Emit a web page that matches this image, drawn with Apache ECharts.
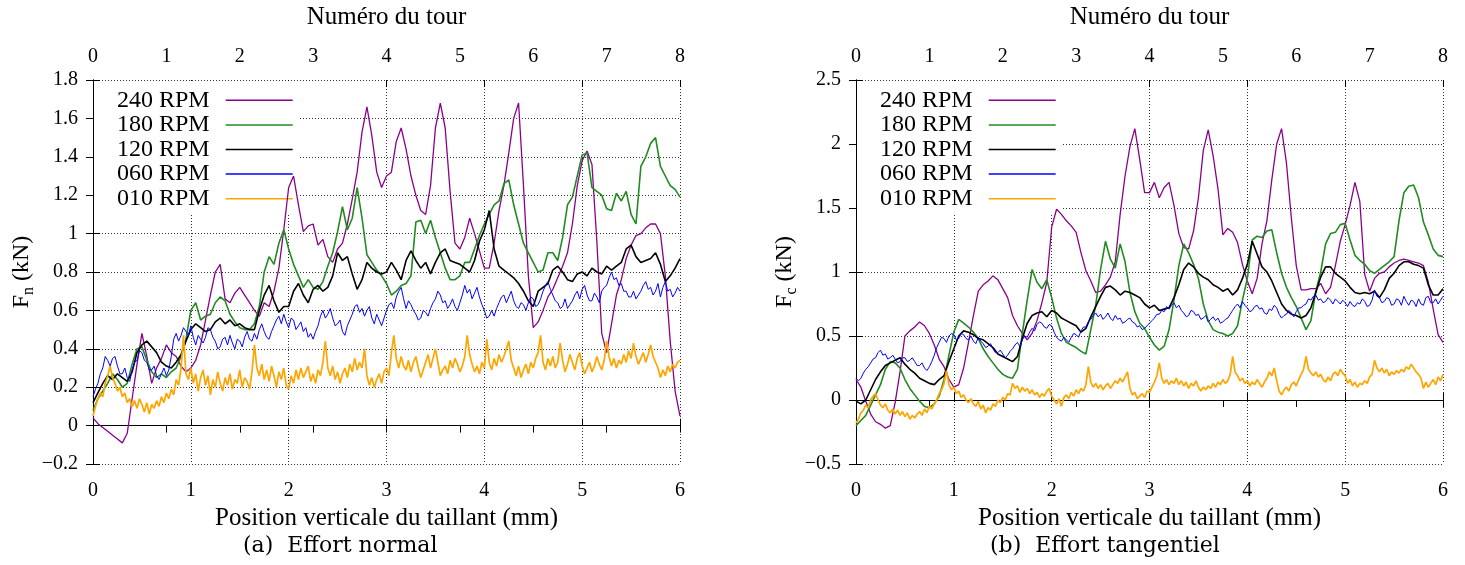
<!DOCTYPE html>
<html><head><meta charset="utf-8">
<script src="https://cdn.jsdelivr.net/npm/echarts/dist/echarts.min.js"></script>
<style>html,body{margin:0;padding:0;background:#fff}#c{width:1465px;height:565px}</style>
</head><body><div id="c"></div>
<script>
// sampling steps along "Position verticale du taillant (mm)"
const STEP = 0.05;       // 240/180/120 RPM series
const STEP_FINE = 0.025; // 060 and 010 RPM (noisy) series
const seriesNames = ['240 RPM','180 RPM','120 RPM','060 RPM','010 RPM'];
const bottomAxisTitle = 'Position verticale du taillant (mm)';
const topAxisTitle = 'Numéro du tour';
const captions = ['(a)  Effort normal', '(b)  Effort tangentiel'];

// ---- (a) Effort normal, Fn (kN) ----
const fn240 = [0.04,0.01,-0.01,-0.03,-0.05,-0.07,-0.09,-0.04,0.14,0.32,
 0.48,0.36,0.22,0.30,0.35,0.42,0.38,0.36,0.31,0.28,
 0.30,0.34,0.42,0.55,0.68,0.80,0.84,0.66,0.64,0.69,
 0.72,0.68,0.64,0.60,0.57,0.64,0.62,0.70,0.82,1.02,
 1.24,1.30,1.15,1.01,1.04,1.05,0.94,0.97,0.88,0.85,
 0.92,0.95,1.05,1.18,1.32,1.53,1.66,1.51,1.32,1.24,
 1.30,1.32,1.48,1.55,1.44,1.30,1.20,1.12,1.10,1.25,
 1.55,1.68,1.55,1.22,0.95,0.92,0.98,1.08,1.00,0.91,
 0.82,0.82,0.95,1.12,1.25,1.42,1.60,1.68,1.25,0.78,
 0.51,0.54,0.60,0.67,0.71,0.77,0.83,0.90,1.05,1.25,
 1.38,1.43,1.36,0.96,0.48,0.38,0.53,0.68,0.76,0.87,
 0.94,0.99,1.00,1.03,1.05,1.05,1.00,0.78,0.44,0.18,
 0.05];
const fn180 = [0.08,0.14,0.18,0.22,0.27,0.24,0.20,0.22,0.32,0.40,
 0.41,0.34,0.28,0.25,0.27,0.25,0.28,0.30,0.36,0.45,
 0.60,0.64,0.55,0.57,0.58,0.64,0.67,0.65,0.58,0.54,
 0.51,0.50,0.50,0.53,0.62,0.80,0.88,0.84,0.95,1.02,
 0.92,0.84,0.78,0.72,0.76,0.72,0.71,0.75,0.83,0.90,
 1.01,1.14,1.02,1.08,1.24,1.08,0.89,0.85,0.81,0.78,
 0.74,0.68,0.70,0.73,0.74,0.78,1.06,1.07,1.00,1.07,
 0.98,0.90,0.82,0.76,0.76,0.78,0.85,0.85,0.92,0.99,
 1.05,1.10,1.15,1.17,1.26,1.28,1.15,1.05,0.95,0.90,
 0.85,0.80,0.81,0.90,0.90,0.86,0.98,1.15,1.19,1.30,
 1.41,1.42,1.24,1.22,1.20,1.13,1.12,1.21,1.17,1.22,
 1.10,1.05,1.35,1.40,1.47,1.50,1.35,1.30,1.25,1.23,
 1.19];
const fn120 = [0.12,0.17,0.22,0.26,0.24,0.27,0.25,0.23,0.28,0.38,
 0.42,0.44,0.41,0.38,0.33,0.31,0.30,0.33,0.37,0.44,
 0.50,0.53,0.51,0.49,0.50,0.54,0.56,0.53,0.55,0.52,
 0.53,0.51,0.50,0.50,0.60,0.68,0.73,0.65,0.59,0.62,
 0.62,0.70,0.74,0.68,0.64,0.71,0.73,0.70,0.72,0.78,
 0.90,0.86,0.88,0.79,0.71,0.76,0.85,0.82,0.80,0.79,
 0.80,0.85,0.81,0.76,0.86,0.91,0.86,0.82,0.85,0.79,
 0.85,0.90,0.92,0.86,0.85,0.84,0.82,0.80,0.86,0.96,
 1.02,1.12,0.92,0.83,0.81,0.79,0.77,0.74,0.70,0.65,
 0.62,0.70,0.72,0.74,0.81,0.83,0.80,0.76,0.75,0.79,
 0.80,0.78,0.82,0.80,0.79,0.83,0.81,0.83,0.85,0.92,
 0.94,0.88,0.85,0.86,0.87,0.90,0.84,0.75,0.78,0.82,
 0.87];
const fn060 = [0.15,0.19,0.22,0.27,0.30,0.36,0.34,0.31,0.35,0.36,0.31,0.27,0.27,0.30,0.25,0.23,0.29,0.33,0.34,0.39,
 0.38,0.34,0.33,0.29,0.29,0.31,0.26,0.24,0.27,0.30,0.26,0.29,0.36,0.45,0.48,0.44,0.47,0.51,0.49,0.47,
 0.52,0.46,0.42,0.47,0.45,0.43,0.46,0.51,0.50,0.46,0.44,0.40,0.41,0.45,0.46,0.42,0.47,0.43,0.40,0.45,
 0.44,0.41,0.46,0.49,0.45,0.44,0.48,0.45,0.50,0.53,0.49,0.46,0.45,0.49,0.52,0.55,0.57,0.53,0.58,0.54,
 0.51,0.56,0.55,0.50,0.52,0.54,0.49,0.51,0.46,0.48,0.45,0.49,0.52,0.57,0.60,0.56,0.58,0.61,0.56,0.52,
 0.53,0.55,0.49,0.47,0.52,0.55,0.58,0.62,0.63,0.59,0.61,0.57,0.60,0.62,0.56,0.53,0.58,0.55,0.52,0.56,
 0.60,0.63,0.64,0.61,0.67,0.70,0.72,0.66,0.61,0.65,0.63,0.60,0.58,0.55,0.56,0.60,0.59,0.57,0.61,0.64,
 0.66,0.70,0.68,0.64,0.65,0.61,0.63,0.66,0.62,0.60,0.64,0.68,0.73,0.69,0.71,0.66,0.69,0.72,0.67,0.63,
 0.60,0.56,0.57,0.60,0.57,0.61,0.64,0.67,0.68,0.64,0.67,0.70,0.65,0.62,0.61,0.64,0.63,0.60,0.64,0.67,
 0.66,0.62,0.63,0.66,0.70,0.73,0.75,0.71,0.68,0.65,0.64,0.61,0.62,0.66,0.61,0.63,0.65,0.68,0.70,0.66,
 0.71,0.73,0.68,0.65,0.65,0.69,0.67,0.64,0.70,0.72,0.73,0.77,0.80,0.76,0.77,0.73,0.74,0.70,0.70,0.67,
 0.67,0.70,0.66,0.68,0.70,0.73,0.75,0.71,0.72,0.68,0.70,0.74,0.67,0.72,0.75,0.70,0.71,0.67,0.69,0.72,
 0.70];
const fn010 = [0.05,0.10,0.14,0.17,0.15,0.22,0.26,0.31,
 0.25,0.22,0.18,0.20,0.15,0.17,0.12,0.14,
 0.10,0.13,0.09,0.14,0.11,0.07,0.12,0.06,
 0.11,0.09,0.13,0.10,0.15,0.12,0.17,0.14,
 0.19,0.16,0.24,0.21,0.30,0.47,0.27,0.24,
 0.30,0.22,0.27,0.18,0.25,0.29,0.21,0.26,
 0.16,0.24,0.20,0.28,0.22,0.18,0.25,0.21,
 0.27,0.19,0.24,0.22,0.29,0.20,0.25,0.23,
 0.19,0.28,0.42,0.30,0.26,0.32,0.24,0.29,
 0.23,0.31,0.26,0.20,0.28,0.24,0.30,0.21,
 0.19,0.26,0.22,0.29,0.24,0.30,0.25,0.28,
 0.31,0.23,0.27,0.22,0.29,0.26,0.33,0.44,
 0.30,0.26,0.31,0.24,0.28,0.22,0.27,0.30,
 0.25,0.32,0.28,0.35,0.29,0.33,0.30,0.40,
 0.26,0.21,0.25,0.20,0.24,0.27,0.22,0.28,
 0.30,0.26,0.38,0.47,0.35,0.30,0.36,0.31,
 0.29,0.34,0.28,0.33,0.36,0.30,0.25,0.29,
 0.33,0.37,0.30,0.35,0.40,0.33,0.26,0.29,
 0.31,0.27,0.34,0.30,0.35,0.32,0.28,0.31,
 0.36,0.47,0.37,0.32,0.28,0.31,0.27,0.33,
 0.30,0.45,0.33,0.29,0.35,0.31,0.37,0.33,
 0.36,0.40,0.44,0.34,0.30,0.26,0.31,0.25,
 0.29,0.32,0.27,0.33,0.30,0.35,0.38,0.47,
 0.33,0.29,0.35,0.31,0.36,0.30,0.33,0.43,
 0.34,0.28,0.32,0.37,0.33,0.29,0.35,0.38,
 0.31,0.27,0.30,0.33,0.28,0.31,0.36,0.32,
 0.29,0.34,0.44,0.36,0.31,0.35,0.30,0.34,
 0.32,0.37,0.33,0.39,0.35,0.43,0.36,0.32,
 0.35,0.38,0.33,0.37,0.42,0.36,0.33,0.30,
 0.25,0.29,0.26,0.31,0.28,0.32,0.30,0.33,
 0.34];

// ---- (b) Effort tangentiel, Fc (kN) ----
const fc240 = [0.16,0.10,-0.01,-0.11,-0.17,-0.19,-0.22,-0.20,-0.02,0.22,
 0.50,0.54,0.57,0.61,0.58,0.52,0.43,0.32,0.26,0.16,
 0.10,0.12,0.25,0.45,0.66,0.85,0.90,0.93,0.97,0.94,
 0.87,0.80,0.66,0.58,0.52,0.47,0.52,0.62,0.76,0.92,
 1.35,1.49,1.45,1.40,1.36,1.31,1.15,1.01,0.93,0.84,
 0.85,0.90,0.96,1.08,1.45,1.75,1.98,2.12,1.88,1.62,
 1.62,1.70,1.58,1.66,1.70,1.52,1.30,1.19,1.18,1.32,
 1.58,1.95,2.11,1.91,1.65,1.29,1.34,1.31,1.23,1.06,
 0.93,0.83,0.95,1.22,1.40,1.72,2.00,2.12,1.85,1.42,
 1.05,0.86,0.86,0.87,0.87,0.91,0.83,0.88,1.05,1.24,
 1.37,1.52,1.70,1.55,0.98,0.85,0.95,0.99,1.00,1.04,
 1.07,1.09,1.10,1.09,1.08,1.07,1.05,0.92,0.71,0.51,
 0.45];
const fc180 = [-0.20,-0.16,-0.12,-0.04,0.04,0.12,0.24,0.30,0.29,0.25,
 0.16,0.09,0.04,-0.01,-0.05,-0.06,-0.03,0.03,0.16,0.35,
 0.53,0.63,0.60,0.57,0.53,0.48,0.40,0.34,0.29,0.24,
 0.20,0.18,0.17,0.24,0.52,0.78,1.02,0.92,0.87,0.94,
 0.80,0.64,0.52,0.45,0.43,0.41,0.38,0.36,0.55,0.74,
 1.02,1.24,1.10,1.03,1.22,1.08,0.84,0.69,0.60,0.56,
 0.49,0.43,0.39,0.42,0.55,0.78,1.05,1.22,1.15,1.06,
 0.95,0.75,0.62,0.55,0.53,0.52,0.50,0.52,0.58,0.78,
 0.95,1.25,1.28,1.27,1.32,1.33,1.15,0.99,0.88,0.80,
 0.73,0.64,0.55,0.62,0.85,1.00,1.22,1.30,1.31,1.37,
 1.38,1.25,1.13,1.09,1.06,1.01,0.99,1.02,1.05,1.08,
 1.12,1.40,1.62,1.67,1.68,1.58,1.39,1.29,1.18,1.13,
 1.12];
const fc120 = [-0.01,-0.03,0.00,0.08,0.16,0.22,0.27,0.29,0.31,0.33,
 0.28,0.24,0.21,0.17,0.15,0.13,0.12,0.16,0.19,0.30,
 0.40,0.50,0.54,0.53,0.51,0.48,0.47,0.44,0.41,0.36,
 0.34,0.32,0.30,0.34,0.48,0.60,0.66,0.68,0.69,0.65,
 0.70,0.68,0.64,0.62,0.60,0.58,0.53,0.56,0.65,0.73,
 0.81,0.88,0.89,0.86,0.82,0.85,0.84,0.82,0.80,0.75,
 0.72,0.74,0.70,0.71,0.72,0.80,0.90,1.02,1.07,1.04,
 0.99,0.96,0.94,0.90,0.88,0.85,0.87,0.82,0.86,0.95,
 1.06,1.24,1.14,1.04,1.00,0.93,0.84,0.75,0.70,0.67,
 0.66,0.64,0.66,0.72,0.84,0.96,1.04,1.04,0.99,0.96,
 0.93,0.88,0.84,0.83,0.84,0.83,0.85,0.80,0.86,0.95,
 0.99,1.05,1.08,1.08,1.06,1.05,1.03,0.90,0.82,0.82,
 0.87];
const fc060 = [0.17,0.15,0.17,0.21,0.24,0.26,0.29,0.32,0.33,0.37,0.39,0.35,0.36,0.32,0.33,0.35,0.32,0.29,0.30,0.33,
 0.33,0.30,0.31,0.33,0.30,0.27,0.27,0.29,0.25,0.23,0.26,0.30,0.35,0.41,0.45,0.49,0.48,0.45,0.50,0.52,
 0.51,0.47,0.48,0.52,0.51,0.48,0.47,0.50,0.46,0.44,0.49,0.46,0.44,0.41,0.42,0.44,0.40,0.37,0.37,0.39,
 0.36,0.33,0.35,0.38,0.40,0.43,0.45,0.42,0.47,0.50,0.49,0.53,0.56,0.54,0.59,0.61,0.60,0.57,0.56,0.59,
 0.58,0.53,0.49,0.47,0.46,0.49,0.47,0.45,0.49,0.52,0.51,0.49,0.54,0.57,0.57,0.61,0.63,0.66,0.68,0.65,
 0.67,0.63,0.65,0.68,0.64,0.62,0.66,0.63,0.64,0.60,0.61,0.63,0.64,0.61,0.60,0.57,0.58,0.55,0.56,0.58,
 0.60,0.62,0.64,0.67,0.67,0.70,0.69,0.73,0.71,0.74,0.76,0.72,0.74,0.70,0.68,0.65,0.66,0.70,0.69,0.66,
 0.67,0.63,0.64,0.66,0.61,0.63,0.65,0.62,0.64,0.60,0.61,0.63,0.64,0.67,0.70,0.73,0.75,0.72,0.77,0.74,
 0.72,0.69,0.70,0.73,0.74,0.71,0.72,0.68,0.67,0.71,0.70,0.74,0.72,0.67,0.64,0.66,0.67,0.70,0.68,0.65,
 0.69,0.72,0.72,0.74,0.75,0.79,0.78,0.81,0.82,0.78,0.79,0.76,0.77,0.80,0.78,0.75,0.79,0.77,0.75,0.78,
 0.76,0.73,0.77,0.74,0.73,0.76,0.75,0.79,0.77,0.73,0.74,0.78,0.86,0.81,0.80,0.76,0.77,0.80,0.79,0.74,
 0.75,0.79,0.78,0.74,0.81,0.77,0.74,0.78,0.77,0.73,0.79,0.75,0.74,0.80,0.81,0.76,0.76,0.79,0.75,0.78,
 0.81];
const fc010 = [-0.18,-0.15,-0.10,-0.08,-0.04,-0.06,0.00,0.03,
 0.05,0.00,-0.04,-0.06,-0.03,-0.08,-0.10,-0.07,
 -0.11,-0.08,-0.12,-0.09,-0.13,-0.10,-0.15,-0.12,
 -0.14,-0.11,-0.09,-0.12,-0.07,-0.10,-0.05,-0.07,
 -0.03,0.00,0.05,0.08,0.13,0.23,0.12,0.08,
 0.10,0.05,0.07,0.02,0.04,0.00,-0.02,0.01,
 -0.03,-0.05,-0.01,-0.07,-0.04,-0.10,-0.06,-0.08,
 -0.03,-0.05,0.00,-0.02,0.02,0.00,0.05,0.04,
 0.13,0.09,0.11,0.06,0.10,0.07,0.09,0.05,
 0.08,0.04,0.06,0.02,0.05,0.03,0.07,0.09,
 0.03,0.00,-0.03,0.01,-0.05,0.02,0.04,0.01,
 0.06,0.03,0.08,0.05,0.09,0.07,0.12,0.26,
 0.14,0.10,0.13,0.09,0.12,0.08,0.11,0.13,
 0.09,0.12,0.15,0.13,0.17,0.14,0.18,0.22,
 0.09,0.04,0.06,0.01,0.03,0.05,0.02,0.07,
 0.06,0.10,0.14,0.19,0.29,0.17,0.13,0.16,
 0.12,0.15,0.13,0.17,0.12,0.15,0.11,0.14,
 0.09,0.13,0.11,0.15,0.10,0.07,0.10,0.08,
 0.11,0.09,0.13,0.10,0.14,0.12,0.16,0.13,
 0.15,0.20,0.34,0.22,0.19,0.15,0.17,0.13,
 0.15,0.11,0.14,0.12,0.16,0.13,0.10,0.14,
 0.17,0.22,0.19,0.25,0.15,0.07,0.04,0.08,
 0.10,0.07,0.12,0.14,0.11,0.16,0.20,0.24,
 0.34,0.24,0.21,0.19,0.22,0.18,0.20,0.16,
 0.14,0.18,0.15,0.20,0.22,0.19,0.24,0.21,
 0.19,0.13,0.16,0.11,0.14,0.10,0.13,0.12,
 0.15,0.13,0.18,0.20,0.31,0.25,0.22,0.25,
 0.21,0.24,0.19,0.22,0.20,0.23,0.21,0.24,
 0.22,0.26,0.24,0.28,0.25,0.22,0.20,0.17,
 0.09,0.14,0.10,0.13,0.16,0.12,0.18,0.15,
 0.20];

const seriesColors = ['#8b008b','#228b22','#000000','#0000ff','#ffa500'];
const seriesWidths = [1.3,1.6,1.6,1.0,1.7];
const seriesSteps = [STEP, STEP, STEP, STEP_FINE, STEP_FINE];

const FONT = 'Liberation Serif';
function pairs(arr, step){ return arr.map((v,i)=>[+(i*step).toFixed(3), v]); }
function yFmt(v){ return String(+v.toFixed(2)).replace('-', '\u2212'); }

const chart = echarts.init(document.getElementById('c'), null, {renderer:'canvas'});

const grids = [{left:93, top:80, width:587, height:384}, {left:856, top:80, width:587, height:384}];
const yRanges = [{min:-0.2,max:1.8,interval:0.2},{min:-0.5,max:2.5,interval:0.5}];
const yNames = ['{a|F}{b|n}{a| (kN)}','{a|F}{b|c}{a| (kN)}'];
const data = [[fn240,fn180,fn120,fn060,fn010],[fc240,fc180,fc120,fc060,fc010]];

const xAxes = [], yAxes = [], series = [], legends = [], graphics = [];
const tickStyle = {show:true, inside:true, length:7, lineStyle:{color:'#000', width:1}};
const lineStyle = {show:true, lineStyle:{color:'#000', width:1}};
const gridLine = {show:true, lineStyle:{color:'#333', width:1, type:[1,2]}};

grids.forEach((g, gi) => {
  const xb = xAxes.length;
  xAxes.push({type:'value', gridIndex:gi, position:'bottom', min:0, max:6, interval:1,
    name:bottomAxisTitle, nameLocation:'middle', nameGap:39,
    nameTextStyle:{fontFamily:FONT, fontSize:25, color:'#000'},
    axisLine:lineStyle, axisTick:tickStyle,
    axisLabel:{fontFamily:FONT, fontSize:20, color:'#000', margin:17},
    splitLine:gridLine});
  xAxes.push({type:'value', gridIndex:gi, position:'top', min:0, max:8, interval:1,
    name:topAxisTitle, nameLocation:'middle', nameGap:50,
    nameTextStyle:{fontFamily:FONT, fontSize:25, color:'#000'},
    axisLine:lineStyle, axisTick:tickStyle,
    axisLabel:{fontFamily:FONT, fontSize:20, color:'#000', margin:13},
    splitLine:{show:false}});
  xAxes.push({type:'value', gridIndex:gi, position:'top', min:0, max:6, interval:1,
    axisLine:{show:false}, axisTick:tickStyle, axisLabel:{show:false}, splitLine:{show:false}});
  const yb = yAxes.length;
  yAxes.push(Object.assign({type:'value', gridIndex:gi, position:'left',
    name:yNames[gi], nameLocation:'middle', nameGap:56, nameRotate:90,
    nameTextStyle:{color:'#000', rich:{
      a:{fontFamily:FONT, fontSize:24, color:'#000', lineHeight:30},
      b:{fontFamily:FONT, fontSize:16, color:'#000', lineHeight:16, verticalAlign:'bottom'}}},
    axisLine:lineStyle, axisTick:tickStyle,
    axisLabel:{fontFamily:FONT, fontSize:20, color:'#000', margin:15, formatter:yFmt},
    splitLine:gridLine}, yRanges[gi]));
  yAxes.push(Object.assign({type:'value', gridIndex:gi, position:'right',
    axisLine:lineStyle, axisTick:tickStyle, axisLabel:{show:false}, splitLine:{show:false}}, yRanges[gi]));

  data[gi].forEach((arr, si) => {
    series.push({type:'line', name:seriesNames[si], xAxisIndex:xb, yAxisIndex:yb,
      data:pairs(arr, seriesSteps[si]),
      showSymbol:false, symbol:'none', color:seriesColors[si],
      lineStyle:{color:seriesColors[si], width:seriesWidths[si]},
      itemStyle:{color:seriesColors[si]}, animation:false, z:2});
  });

  legends.push({show:true, left:g.left+1, top:g.top+1, orient:'vertical', align:'right',
    icon:'rect', itemWidth:67, itemHeight:1.5, itemGap:0,
    padding:[7,6,2,23], backgroundColor:'#fff', z:1, selectedMode:false,
    textStyle:{fontFamily:FONT, fontSize:24, color:'#000', lineHeight:24.6, padding:[0,11,0,0]},
    data:seriesNames});

  graphics.push({type:'text', left: gi === 0 ? 243 : 990, top:535,
    style:{text:captions[gi], font:'22px "DejaVu Serif"', fill:'#000'}});
});

chart.setOption({
  animation:false,
  backgroundColor:'#fff',
  grid:grids,
  xAxis:xAxes,
  yAxis:yAxes,
  legend:legends,
  series:series,
  graphic:graphics
});
</script>
</body></html>
